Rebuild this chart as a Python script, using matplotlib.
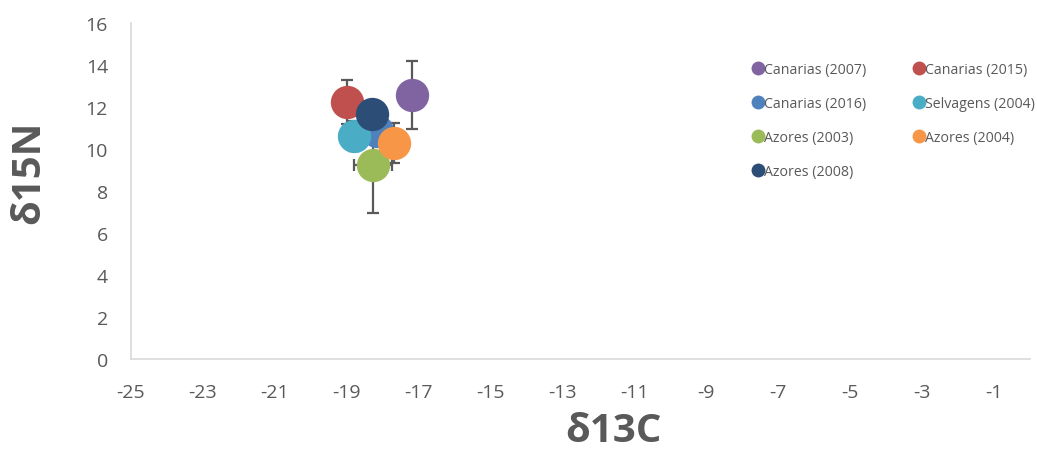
import matplotlib
matplotlib.use("Agg")
import matplotlib.pyplot as plt
from matplotlib.lines import Line2D

plt.rcParams['font.family'] = ['Open Sans', 'DejaVu Sans']
plt.rcParams['axes.unicode_minus'] = False

series = ["Canarias (2007)", "Canarias (2015)", "Canarias (2016)", "Selvagens (2004)",
          "Azores (2003)", "Azores (2004)", "Azores (2008)"]
d13c = [-17.17, -18.99, -18.15, -18.81, -18.26, -17.69, -18.30]
d15n = [12.57, 12.25, 10.85, 10.62, 9.24, 10.29, 11.67]
d13c_err = [0.0, 0.0, 0.0, 0.0, 0.53, 0.0, 0.0]
d15n_err = [1.62, 1.05, 0.35, 0.70, 2.30, 0.95, 0.30]
colors = ["#8064A2", "#C0504D", "#4F81BD", "#4BACC6", "#9BBB59", "#F79646", "#2C4D75"]

x_ticks = list(range(-25, 0, 2))
y_ticks = list(range(0, 17, 2))

fig = plt.figure(figsize=(10.37, 4.52), dpi=100)
ax = fig.add_axes([0.1263, 0.2035, 0.8667, 0.7435])

grey = "#595959"
# error bars sit underneath all markers
for x, y, xe, ye in zip(d13c, d15n, d13c_err, d15n_err):
    ax.errorbar(x, y, xerr=xe if xe > 0 else None, yerr=ye if ye > 0 else None,
                fmt="none", ecolor=grey, elinewidth=1.6, capsize=4, capthick=1.6, zorder=2)
for i, (x, y, c) in enumerate(zip(d13c, d15n, colors)):
    ax.plot(x, y, "o", color=c, markersize=24, markeredgewidth=0, zorder=3 + i)

ax.set_xlim(-25, 0)
ax.set_ylim(0, 16)
ax.set_xticks(x_ticks)
ax.set_yticks(y_ticks)
ax.tick_params(length=0, labelsize=14, colors=grey)
ax.tick_params(axis="x", pad=17)
ax.tick_params(axis="y", pad=16.5)
for side in ("top", "right"):
    ax.spines[side].set_visible(False)
for side in ("left", "bottom"):
    ax.spines[side].set_color("#D9D9D9")
    ax.spines[side].set_linewidth(1.2)

# axis titles
fig.text(0.592, 0.002, "δ13C", fontsize=29, fontweight="bold", color=grey,
         ha="center", va="bottom")
fig.text(0.028, 0.619, "δ15N", fontsize=29, fontweight="bold", color=grey,
         ha="center", va="center", rotation=90)

# legend laid out row by row: reorder for column-wise filling
order = [0, 2, 4, 6, 1, 3, 5]
handles = [Line2D([], [], marker="o", linestyle="none", color=colors[i],
                  markersize=10, markeredgewidth=0) for i in order]
labels = [series[i] for i in order]
leg = fig.legend(handles, labels, ncol=2, loc="upper left",
                 bbox_to_anchor=(0.715, 0.888), frameon=False,
                 fontsize=10.2, labelcolor=grey, handlelength=0.6,
                 handletextpad=0.1, columnspacing=3.45, labelspacing=1.33)

fig.savefig("out.png", dpi=100)
